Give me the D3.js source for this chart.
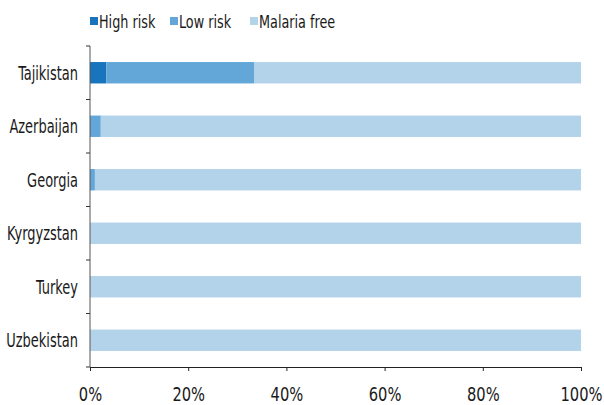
<!DOCTYPE html>
<html><head><meta charset="utf-8">
<script src="https://cdn.jsdelivr.net/npm/d3@7"></script>
<style>
body{margin:0;background:#fff;}
text{font-family:"DejaVu Sans Condensed","DejaVu Sans",sans-serif;fill:#1a1a1a;}
</style></head>
<body><svg id="c" width="604" height="405"></svg>
<script>
const countries = ["Tajikistan","Azerbaijan","Georgia","Kyrgyzstan","Turkey","Uzbekistan"];
const seriesNames = ["High risk","Low risk","Malaria free"];
const highRisk = [3.3, 0, 0, 0, 0, 0];
const lowRisk = [30.1, 2.2, 1.0, 0, 0, 0];
const malariaFree = [66.6, 97.8, 99.0, 100, 100, 100];
const tickValues = [0,20,40,60,80,100];
const colors = ["#1874bd","#62a7d7","#b3d3ea"];

const svg = d3.select("#c");
const m = {l:90, r:23, t:46, b:38};
const W = 604, H = 405;
const x = d3.scaleLinear().domain([0,100]).range([m.l, W-m.r]);
const y = d3.scaleBand().domain(countries).range([m.t, H-m.b]).paddingInner(0.6).paddingOuter(0.3);

const rows = countries.map((c,i)=>({country:c, "High risk":highRisk[i], "Low risk":lowRisk[i], "Malaria free":malariaFree[i]}));
const stack = d3.stack().keys(seriesNames)(rows);

svg.append("g").selectAll("g").data(stack).join("g")
  .attr("fill",(d,i)=>colors[i])
  .selectAll("rect").data(d=>d).join("rect")
  .attr("x",d=>x(d[0])).attr("width",d=>x(d[1])-x(d[0]))
  .attr("y",d=>y(d.data.country)).attr("height",y.bandwidth());

// x axis
const xa = svg.append("g").attr("transform",`translate(0,${H-m.b})`)
  .call(d3.axisBottom(x).tickValues(tickValues).tickFormat(d=>d+"%").tickSize(4).tickSizeOuter(0));
xa.select(".domain").attr("stroke","#222");
xa.selectAll(".tick line").attr("stroke","#222");
xa.selectAll(".tick text").attr("y",null).attr("dy",null)
  .attr("font-size",19).attr("fill","#1a1a1a")
  .attr("transform","translate(0,34) scale(0.86,1)");

// y axis with ticks between categories
const ya = svg.append("g").attr("transform",`translate(${m.l},0)`);
ya.append("line").attr("x1",0).attr("x2",0).attr("y1",m.t).attr("y2",H-m.b).attr("stroke","#555");
const step = y.step();
d3.range(countries.length+1).forEach(i=>{
  const yy = m.t + i*step;
  ya.append("line").attr("x1",-4).attr("x2",0).attr("y1",yy).attr("y2",yy).attr("stroke","#333");
});
ya.selectAll("text.lab").data(countries).join("text").attr("class","lab")
  .attr("transform",d=>`translate(-12,${y(d)+y.bandwidth()/2+7}) scale(0.76,1)`)
  .attr("text-anchor","end").attr("font-size",19).text(d=>d);

// legend
const legX = [90, 170, 250];
const lg = svg.append("g");
seriesNames.forEach((s,i)=>{
  lg.append("rect").attr("x",legX[i]).attr("y",17).attr("width",8).attr("height",8).attr("fill",colors[i]);
  lg.append("text").attr("transform",`translate(${legX[i]+9},28) scale(0.79,1)`).attr("font-size",18).text(s);
});
</script></body></html>
